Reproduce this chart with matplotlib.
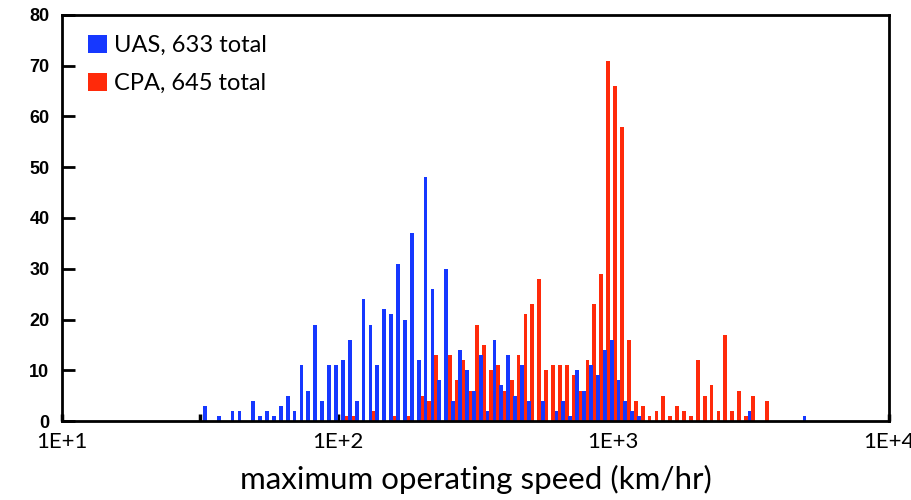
import numpy as np
import matplotlib
matplotlib.use("Agg")
import matplotlib.pyplot as plt
from matplotlib.patches import Patch
from matplotlib.ticker import FixedLocator, FixedFormatter, NullFormatter

# Histogram bins: 40 log-bins per decade, bin index k -> speed 10**(k/40) km/hr
uas_bins = [61, 63, 65, 66, 68, 69, 70, 71, 72, 73, 74, 75, 76, 77, 78, 79, 80,
            81, 82, 83, 84, 85, 86, 87, 88, 89, 90, 91, 92, 93, 94, 95, 96, 97,
            98, 99, 100, 101, 102, 103, 104, 105, 106, 107, 108, 110, 112, 113,
            114, 115, 116, 117, 118, 119, 120, 121, 122, 123, 124, 140, 148]
uas_counts = [3, 1, 2, 2, 4, 1, 2, 1, 3, 5, 2, 11, 6, 19, 4, 11, 11,
              12, 16, 4, 24, 19, 11, 22, 21, 31, 20, 37, 12, 48, 26, 8, 30, 4,
              14, 10, 6, 13, 2, 16, 7, 13, 5, 11, 4, 4, 2, 4,
              1, 10, 6, 11, 9, 14, 16, 8, 4, 2, 1, 2, 1]

cpa_bins = [81, 82, 85, 88, 90, 92, 93, 94, 96, 97, 98, 99, 100, 101, 102, 103,
            104, 105, 106, 107, 108, 109, 110, 111, 112, 113, 114, 115, 116, 117,
            118, 119, 120, 121, 122, 123, 124, 125, 126, 127, 128, 129, 130, 131,
            132, 133, 134, 135, 136, 137, 138, 139, 140, 142]
cpa_counts = [1, 1, 2, 1, 1, 5, 4, 13, 13, 8, 12, 6, 19, 15, 10, 11,
              6, 8, 13, 21, 23, 28, 10, 11, 11, 11, 9, 6, 12, 23,
              29, 71, 66, 58, 16, 4, 3, 1, 2, 5, 1, 3, 2, 1,
              12, 5, 7, 2, 17, 2, 6, 1, 5, 4]

legend_labels = ["UAS, 633 total", "CPA, 645 total"]
x_tick_labels = ["1E+1", "1E+2", "1E+3", "1E+4"]
y_ticks = [0, 10, 20, 30, 40, 50, 60, 70, 80]

BLUE = "#1638ff"
RED = "#ff2a0a"
BINS_PER_DECADE = 40.0
BAR_FRAC = 0.55


def bar_geometry(bins, shift):
    c = (np.asarray(bins, dtype=float) + shift) / BINS_PER_DECADE
    half = BAR_FRAC / BINS_PER_DECADE / 2
    left = 10 ** (c - half)
    right = 10 ** (c + half)
    return left, right - left


fig = plt.figure(figsize=(9.12, 5.0), dpi=100)
ax = fig.add_axes([62 / 912, 79 / 500, 827 / 912, 406 / 500])
ax.set_xscale("log")

l, w = bar_geometry(cpa_bins, 0.25)
ax.bar(l, cpa_counts, width=w, align="edge", color=RED, linewidth=0, zorder=2)
l, w = bar_geometry(uas_bins, -0.25)
ax.bar(l, uas_counts, width=w, align="edge", color=BLUE, linewidth=0, zorder=3)

ax.set_xlim(10, 10000)
ax.set_ylim(0, 80)

for s in ax.spines.values():
    s.set_linewidth(2.0)
    s.set_color("black")
    s.set_zorder(5)

ax.xaxis.set_major_locator(FixedLocator([10, 100, 1000, 10000]))
ax.xaxis.set_major_formatter(FixedFormatter(x_tick_labels))
ax.xaxis.set_minor_locator(FixedLocator([10 ** 1.5, 10 ** 2.5, 10 ** 3.5]))
ax.xaxis.set_minor_formatter(NullFormatter())
ax.tick_params(axis="x", which="both", direction="in", length=5, width=2.5,
               color="black", pad=8, labelsize=16)
for lab in ax.get_xticklabels():
    lab.set_family("Lato")

ax.set_yticks(y_ticks)
ax.tick_params(axis="y", which="major", direction="in", length=9, width=2,
               left=True, right=False, pad=9, labelsize=13)
for lab in ax.get_yticklabels():
    lab.set_family("Liberation Sans")
    lab.set_fontweight("bold")

ax.set_xlabel("maximum operating speed (km/hr)", fontsize=22.5, family="Lato",
              labelpad=9)

handles = [Patch(facecolor=BLUE, edgecolor="none"),
           Patch(facecolor=RED, edgecolor="none")]
ax.legend(handles, legend_labels, loc="upper left", frameon=False,
          prop={"family": "Lato", "size": 17}, handlelength=0.8,
          handleheight=0.8, handletextpad=0.3, labelspacing=0.7,
          borderaxespad=0.35, bbox_to_anchor=(0.01, 0.995))

fig.savefig("out.png", dpi=100)
